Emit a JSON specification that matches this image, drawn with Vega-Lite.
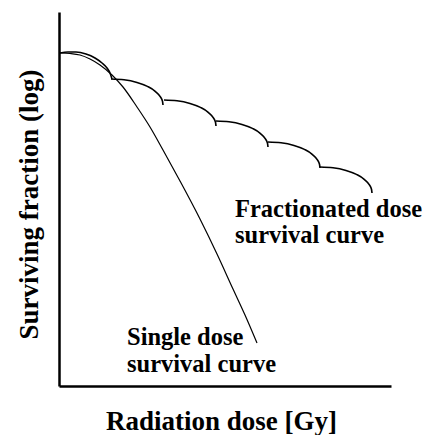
{
  "$schema": "https://vega.github.io/schema/vega-lite/v6.json",
  "autosize": {"type": "none"},
  "padding": {"left": 59, "top": 12, "right": 33, "bottom": 49},
  "width": 332,
  "height": 374,
  "background": "white",
  "config": {"view": {"stroke": null}},
  "datasets": {
    "curves": [
      {"curve": "single", "seg": "s", "i": 0, "dose": 1, "sf": 333},
      {"curve": "single", "seg": "s", "i": 1, "dose": 11, "sf": 332.5},
      {"curve": "single", "seg": "s", "i": 2, "dose": 21, "sf": 331},
      {"curve": "single", "seg": "s", "i": 3, "dose": 31, "sf": 327},
      {"curve": "single", "seg": "s", "i": 4, "dose": 41, "sf": 321},
      {"curve": "single", "seg": "s", "i": 5, "dose": 53, "sf": 311},
      {"curve": "single", "seg": "s", "i": 6, "dose": 64, "sf": 299},
      {"curve": "single", "seg": "s", "i": 7, "dose": 78, "sf": 279},
      {"curve": "single", "seg": "s", "i": 8, "dose": 91, "sf": 259},
      {"curve": "single", "seg": "s", "i": 9, "dose": 104, "sf": 236},
      {"curve": "single", "seg": "s", "i": 10, "dose": 121, "sf": 205},
      {"curve": "single", "seg": "s", "i": 11, "dose": 141, "sf": 167},
      {"curve": "single", "seg": "s", "i": 12, "dose": 158, "sf": 132},
      {"curve": "single", "seg": "s", "i": 13, "dose": 174, "sf": 97},
      {"curve": "single", "seg": "s", "i": 14, "dose": 186, "sf": 71},
      {"curve": "single", "seg": "s", "i": 15, "dose": 198, "sf": 43},

      {"curve": "frac", "seg": "f1", "i": 0, "dose": 1, "sf": 333},
      {"curve": "frac", "seg": "f1", "i": 1, "dose": 9, "sf": 334},
      {"curve": "frac", "seg": "f1", "i": 2, "dose": 17, "sf": 334},
      {"curve": "frac", "seg": "f1", "i": 3, "dose": 27, "sf": 332},
      {"curve": "frac", "seg": "f1", "i": 4, "dose": 36, "sf": 328},
      {"curve": "frac", "seg": "f1", "i": 5, "dose": 43, "sf": 323},
      {"curve": "frac", "seg": "f1", "i": 6, "dose": 48, "sf": 318},
      {"curve": "frac", "seg": "f1", "i": 7, "dose": 51, "sf": 313},
      {"curve": "frac", "seg": "f1", "i": 8, "dose": 53, "sf": 307},

      {"curve": "frac", "seg": "f2", "i": 0, "dose": 52, "sf": 307},
      {"curve": "frac", "seg": "f2", "i": 1, "dose": 65, "sf": 306.2},
      {"curve": "frac", "seg": "f2", "i": 2, "dose": 78, "sf": 303.5},
      {"curve": "frac", "seg": "f2", "i": 3, "dose": 88.4, "sf": 299.6},
      {"curve": "frac", "seg": "f2", "i": 4, "dose": 96.2, "sf": 294.7},
      {"curve": "frac", "seg": "f2", "i": 5, "dose": 101.4, "sf": 289.1},
      {"curve": "frac", "seg": "f2", "i": 6, "dose": 103.5, "sf": 284.7},
      {"curve": "frac", "seg": "f2", "i": 7, "dose": 104, "sf": 281},

      {"curve": "frac", "seg": "f3", "i": 0, "dose": 105, "sf": 286},
      {"curve": "frac", "seg": "f3", "i": 1, "dose": 118, "sf": 285.2},
      {"curve": "frac", "seg": "f3", "i": 2, "dose": 131, "sf": 282.5},
      {"curve": "frac", "seg": "f3", "i": 3, "dose": 141.4, "sf": 278.6},
      {"curve": "frac", "seg": "f3", "i": 4, "dose": 149.2, "sf": 273.7},
      {"curve": "frac", "seg": "f3", "i": 5, "dose": 154.4, "sf": 268.1},
      {"curve": "frac", "seg": "f3", "i": 6, "dose": 156.5, "sf": 263.7},
      {"curve": "frac", "seg": "f3", "i": 7, "dose": 157, "sf": 260},

      {"curve": "frac", "seg": "f4", "i": 0, "dose": 157, "sf": 265},
      {"curve": "frac", "seg": "f4", "i": 1, "dose": 170, "sf": 264.2},
      {"curve": "frac", "seg": "f4", "i": 2, "dose": 183, "sf": 261.5},
      {"curve": "frac", "seg": "f4", "i": 3, "dose": 193.4, "sf": 257.6},
      {"curve": "frac", "seg": "f4", "i": 4, "dose": 201.2, "sf": 252.7},
      {"curve": "frac", "seg": "f4", "i": 5, "dose": 206.4, "sf": 247.1},
      {"curve": "frac", "seg": "f4", "i": 6, "dose": 208.5, "sf": 242.7},
      {"curve": "frac", "seg": "f4", "i": 7, "dose": 209, "sf": 239},

      {"curve": "frac", "seg": "f5", "i": 0, "dose": 209, "sf": 244},
      {"curve": "frac", "seg": "f5", "i": 1, "dose": 222, "sf": 243.2},
      {"curve": "frac", "seg": "f5", "i": 2, "dose": 235, "sf": 240.5},
      {"curve": "frac", "seg": "f5", "i": 3, "dose": 245.4, "sf": 236.6},
      {"curve": "frac", "seg": "f5", "i": 4, "dose": 253.2, "sf": 231.7},
      {"curve": "frac", "seg": "f5", "i": 5, "dose": 258.4, "sf": 226.1},
      {"curve": "frac", "seg": "f5", "i": 6, "dose": 260.5, "sf": 221.7},
      {"curve": "frac", "seg": "f5", "i": 7, "dose": 261, "sf": 218},

      {"curve": "frac", "seg": "f6", "i": 0, "dose": 261, "sf": 219},
      {"curve": "frac", "seg": "f6", "i": 1, "dose": 274, "sf": 218.2},
      {"curve": "frac", "seg": "f6", "i": 2, "dose": 287, "sf": 215.5},
      {"curve": "frac", "seg": "f6", "i": 3, "dose": 297.4, "sf": 211.6},
      {"curve": "frac", "seg": "f6", "i": 4, "dose": 305.2, "sf": 206.7},
      {"curve": "frac", "seg": "f6", "i": 5, "dose": 310.4, "sf": 201.1},
      {"curve": "frac", "seg": "f6", "i": 6, "dose": 312.5, "sf": 196.7},
      {"curve": "frac", "seg": "f6", "i": 7, "dose": 313, "sf": 193}
    ],
    "labels": [
      {"text": "Fractionated dose", "dose": 176, "sf": 169},
      {"text": "survival curve", "dose": 176, "sf": 143},
      {"text": "Single dose", "dose": 68, "sf": 41},
      {"text": "survival curve", "dose": 68, "sf": 14}
    ]
  },
  "encoding": {
    "x": {
      "field": "dose", "type": "quantitative",
      "scale": {"domain": [0, 332], "nice": false, "zero": false},
      "axis": {
        "title": "Radiation dose [Gy]", "ticks": false, "labels": false, "grid": false,
        "domainColor": "black", "domainWidth": 2.5,
        "titleFont": "Liberation Serif", "titleFontSize": 27, "titleFontWeight": "bold",
        "titleColor": "black", "titlePadding": 22, "titleX": 162
      }
    },
    "y": {
      "field": "sf", "type": "quantitative",
      "scale": {"domain": [0, 374], "nice": false, "zero": false},
      "axis": {
        "title": "Surviving fraction (log)", "ticks": false, "labels": false, "grid": false,
        "domainColor": "black", "domainWidth": 2.5,
        "titleFont": "Liberation Serif", "titleFontSize": 27, "titleFontWeight": "bold",
        "titleColor": "black", "titlePadding": 16, "titleY": 192
      }
    }
  },
  "layer": [
    {
      "data": {"name": "curves"},
      "transform": [{"filter": "datum.curve == 'single'"}],
      "mark": {"type": "line", "interpolate": "monotone", "color": "black", "strokeWidth": 1.2},
      "encoding": {"detail": {"field": "seg"}, "order": {"field": "i", "type": "quantitative"}}
    },
    {
      "data": {"name": "curves"},
      "transform": [{"filter": "datum.curve == 'frac'"}],
      "mark": {"type": "line", "interpolate": "monotone", "color": "black", "strokeWidth": 1.6},
      "encoding": {"detail": {"field": "seg"}, "order": {"field": "i", "type": "quantitative"}}
    },
    {
      "data": {"name": "labels"},
      "mark": {"type": "text", "align": "left", "baseline": "alphabetic", "font": "Liberation Serif", "fontWeight": "bold", "fontSize": 24.5, "color": "black"},
      "encoding": {"text": {"field": "text"}}
    }
  ]
}
